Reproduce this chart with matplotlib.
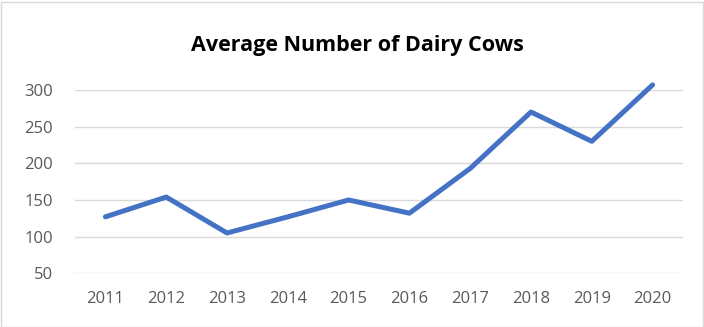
import matplotlib
matplotlib.use('Agg')
import matplotlib.pyplot as plt
from matplotlib.patches import Rectangle

# yearly averages of dairy cows
years = ['2011', '2012', '2013', '2014', '2015', '2016', '2017', '2018', '2019', '2020']
cows = [127, 154, 105, 127, 150, 132, 193, 270, 230, 307]
yticks = [50, 100, 150, 200, 250, 300]

plt.rcParams['font.family'] = ['Open Sans', 'DejaVu Sans']

fig = plt.figure(figsize=(7.04, 3.27), dpi=100)
ax = fig.add_axes([75/704, 1 - 273.3/327, (683 - 75)/704, (273.3 - 90)/327])

xs = range(len(years))
ax.plot(xs, cows, color='#4472C4', linewidth=3.6, solid_capstyle='round',
        solid_joinstyle='round', clip_on=False, zorder=3)

ax.set_xlim(-0.5, len(years) - 0.5)
ax.set_ylim(50, 300)
ax.set_yticks(yticks)
ax.set_xticks(list(xs))
ax.set_xticklabels(years)
ax.grid(axis='y', color='#d9d9d9', linewidth=1.0)
ax.set_axisbelow(True)
for s in ax.spines.values():
    s.set_visible(False)
ax.tick_params(length=0, labelsize=12, labelcolor='#595959')
ax.tick_params(axis='x', pad=13)
ax.tick_params(axis='y', pad=16)

fig.text(357/704, 1 - 46/327, 'Average Number of Dairy Cows', ha='center', va='center',
         fontsize=15.5, fontweight='bold', color='black')

# chart border
fig.patches.append(Rectangle((0.5/704, 0.5/327), 702/704, 325/327, transform=fig.transFigure,
                             fill=False, edgecolor='#d9d9d9', linewidth=1.0))

fig.savefig('out.png', dpi=100)
